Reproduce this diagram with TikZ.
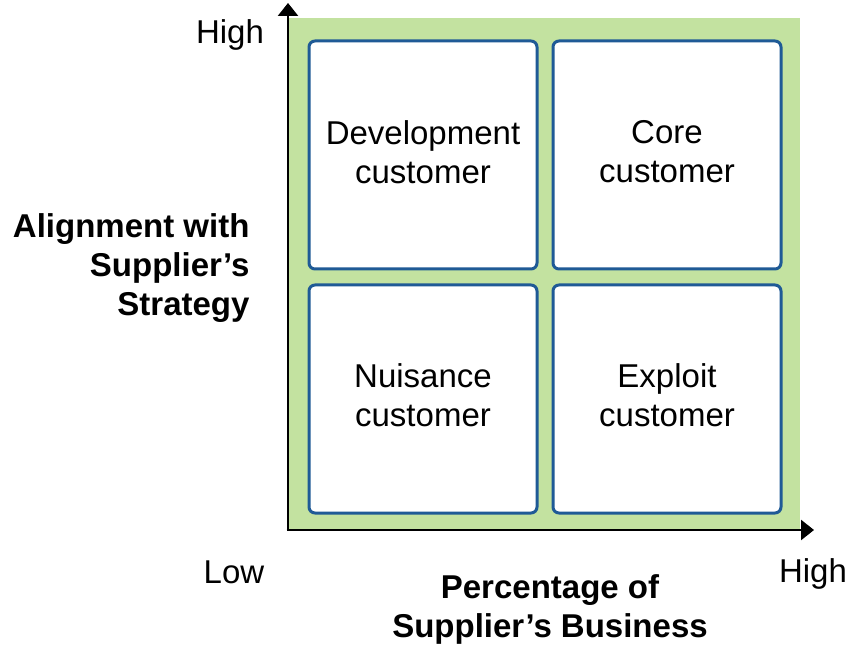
\documentclass[tikz,border=0pt]{standalone}
\usepackage{fontspec}
\setmainfont{Liberation Sans}
\usetikzlibrary{arrows.meta}
\definecolor{bggreen}{HTML}{C3E2A0}
\definecolor{boxblue}{HTML}{1F5A96}
\begin{document}
\begin{tikzpicture}[x=1pt,y=-1pt,
  quad/.style={draw=boxblue,line width=3pt,fill=white,rounded corners=6pt,
    minimum width=228pt,minimum height=228pt,inner sep=0pt,anchor=north west},
  qtext/.style={align=center,font=\fontsize{33}{39}\selectfont},
  axlabel/.style={align=center,font=\fontsize{33}{39}\selectfont\bfseries},
  ticklabel/.style={font=\fontsize{33}{36}\selectfont,anchor=base,inner sep=0pt},
  axis/.style={line width=2.6pt,-{Triangle[length=13pt,width=20pt]}}]
\useasboundingbox (0,0) rectangle (852,647);
\fill[bggreen] (288,18) rectangle (800,530);
\node[quad] (tl) at (307.5,39.5) {};
\node[quad] (tr) at (551.5,39.5) {};
\node[quad] (bl) at (307.5,283.5) {};
\node[quad] (br) at (551.5,283.5) {};
\node[qtext] (tlt) at (tl.center) [yshift=3pt] {Development\\customer};
\node[qtext] (trt) at (tr.center) [yshift=3pt] {Core\\customer};
\node[qtext] (blt) at (bl.center) [yshift=4pt] {Nuisance\\customer};
\node[qtext] (brt) at (br.center) [yshift=4pt] {Exploit\\customer};
\coordinate (o) at (288,530);
\coordinate (ytop) at (288,3);
\coordinate (xend) at (814,530);
\draw[axis] ([yshift=1.3pt]o) -- (ytop);
\draw[axis] ([xshift=-1.3pt]o) -- (xend);
\node[ticklabel] (yhigh) at (230,44) {High};
\node[ticklabel] (xlow) at (234,583) {Low};
\node[ticklabel] (xhigh) at (813,582) {High};
\node[axlabel,align=right,anchor=east] (ylab) at (253,268) {Alignment with\\Supplier’s\\Strategy};
\node[axlabel] (xlab) at (550,609) {Percentage of\\Supplier’s Business};
\end{tikzpicture}
\end{document}
